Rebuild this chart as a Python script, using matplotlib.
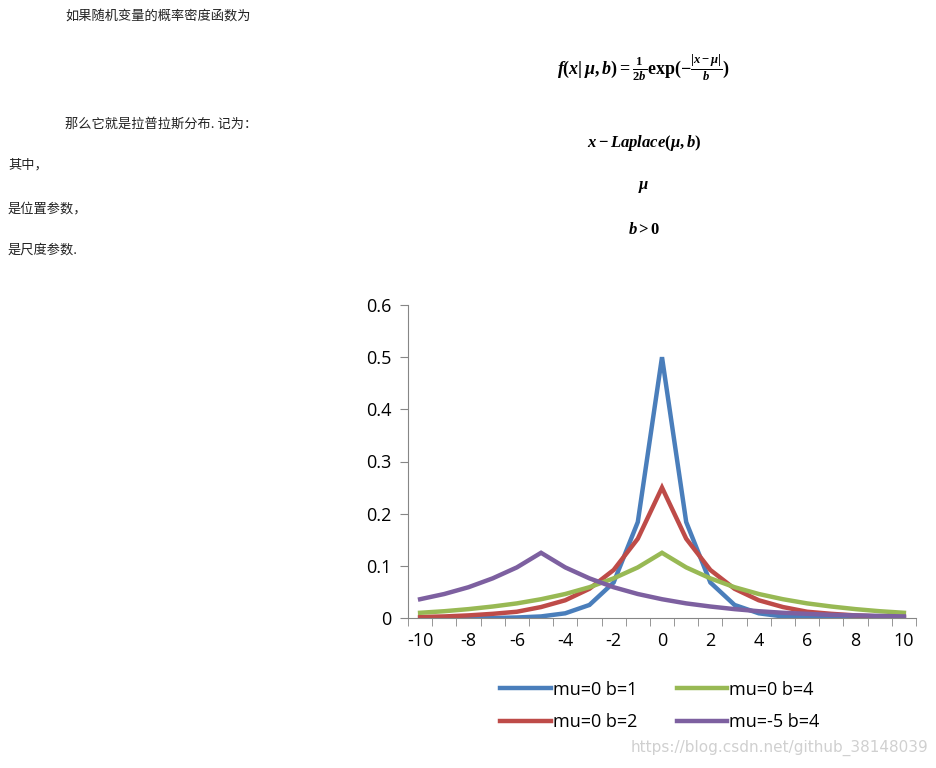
import matplotlib
matplotlib.use("Agg")
import matplotlib.pyplot as plt
import numpy as np

x = list(range(-10, 11))
s1 = [0.000,0.000,0.000,0.000,0.001,0.003,0.009,0.025,0.068,0.184,0.500,0.184,0.068,0.025,0.009,0.003,0.001,0.000,0.000,0.000,0.000]
s2 = [0.002,0.003,0.005,0.008,0.012,0.021,0.034,0.056,0.092,0.152,0.250,0.152,0.092,0.056,0.034,0.021,0.012,0.008,0.005,0.003,0.002]
s3 = [0.010,0.013,0.017,0.022,0.028,0.036,0.046,0.059,0.076,0.097,0.125,0.097,0.076,0.059,0.046,0.036,0.028,0.022,0.017,0.013,0.010]
s4 = [0.036,0.046,0.059,0.076,0.097,0.125,0.097,0.076,0.059,0.046,0.036,0.028,0.022,0.017,0.013,0.010,0.008,0.006,0.005,0.004,0.003]
names = ["mu=0 b=1", "mu=0 b=2", "mu=0 b=4", "mu=-5 b=4"]
colors = ["#4a7ebb", "#be4b48", "#98b954", "#7d60a0"]
yticks = [0, 0.1, 0.2, 0.3, 0.4, 0.5, 0.6]
ylabels = ["0", "0.1", "0.2", "0.3", "0.4", "0.5", "0.6"]
xlabels = [-10, -8, -6, -4, -2, 0, 2, 4, 6, 8, 10]

plt.rcParams['mathtext.fontset'] = 'custom'
plt.rcParams['mathtext.it'] = 'Liberation Serif:italic:bold'
plt.rcParams['mathtext.rm'] = 'Liberation Serif:bold'
plt.rcParams['mathtext.bf'] = 'Liberation Serif:bold'

W, H = 936, 768
fig = plt.figure(figsize=(W/100, H/100), dpi=100)
cjk = ['Noto Sans CJK SC', 'DejaVu Sans']

def t(px, py, s, **kw):
    fig.text(px/W, 1-py/H, s, **kw)

t(65, 16, "如果随机变量的概率密度函数为", family=cjk, fontsize=9.5, va='center', color='#222222')
t(644, 68, r"$f(x|\,\mu,b)=\frac{1}{2b}\exp(-\frac{|x-\mu|}{b})$", fontsize=13, ha='center', va='center')
t(65, 124, "那么它就是拉普拉斯分布. 记为：", family=cjk, fontsize=9.5, va='center', color='#222222')
t(644, 143, r"$x-Laplace(\mu,b)$", fontsize=12, ha='center', va='center')
t(8, 165, "其中，", family=cjk, fontsize=9.5, va='center', color='#222222')
t(644, 186, r"$\mu$", fontsize=12, ha='center', va='center')
t(8, 209, "是位置参数，", family=cjk, fontsize=9.5, va='center', color='#222222')
t(644, 229, r"$b>0$", fontsize=12, ha='center', va='center')
t(8, 250, "是尺度参数.", family=cjk, fontsize=9.5, va='center', color='#222222')

ax = fig.add_axes([408/W, 1-618/H, (916-408)/W, (618-305)/H])
lines = []
for s, c, n in zip([s1, s2, s3, s4], colors, names):
    l, = ax.plot(x, s, color=c, lw=3.2, label=n, solid_joinstyle='miter')
    lines.append(l)
ax.set_xlim(-10.5, 10.5)
ax.set_ylim(0, 0.6)
for sp in ['top', 'right']:
    ax.spines[sp].set_visible(False)
for sp in ['left', 'bottom']:
    ax.spines[sp].set_color('#868686')
ax.set_yticks(yticks)
ax.set_yticklabels(ylabels)
ax.set_xticks(xlabels)
ax.set_xticklabels([str(v) for v in xlabels])
ax.set_xticks(np.arange(-10.5, 10.6, 1), minor=True)
ax.tick_params(axis='x', which='major', length=0, pad=10, labelsize=13)
ax.tick_params(axis='x', which='minor', length=6, color='#868686', direction='out')
ax.tick_params(axis='y', length=6, color='#868686', direction='out', labelsize=13, pad=6)
for lab in ax.get_xticklabels() + ax.get_yticklabels():
    lab.set_family('Open Sans')

leg = fig.legend(lines, names, ncol=2, loc='center', bbox_to_anchor=(660/W, 1-706/H),
                 frameon=False, prop={'family': 'Open Sans', 'size': 13},
                 handlelength=2.8, handletextpad=0.1, columnspacing=2.2, labelspacing=0.8)

t(928, 748, "https://blog.csdn.net/github_38148039", fontsize=11, ha='right', va='center', color='#d0d0d0')

fig.savefig("out.png", dpi=100)
